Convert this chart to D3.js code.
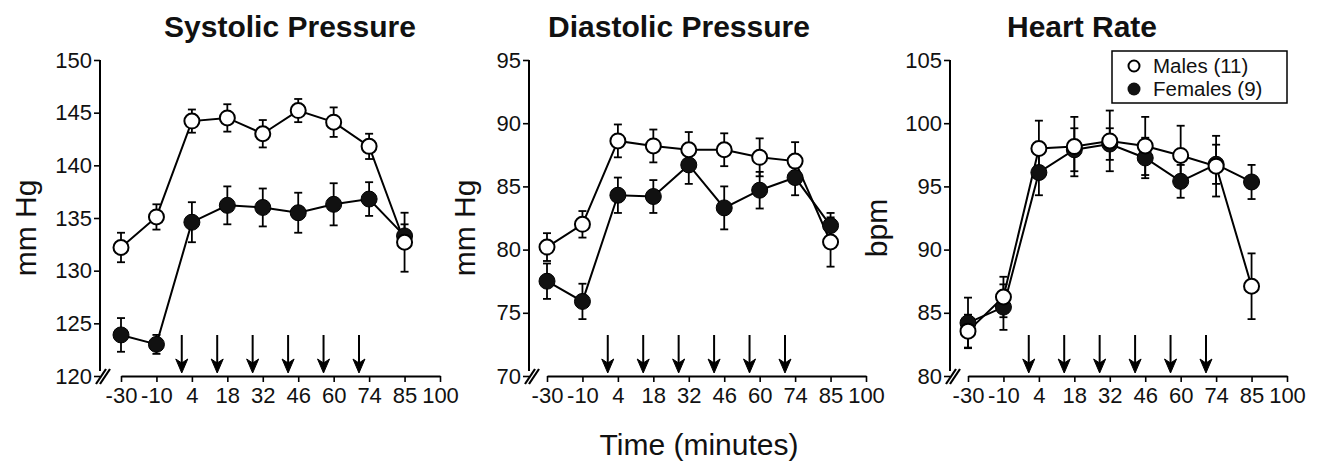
<!DOCTYPE html>
<html>
<head>
<meta charset="utf-8">
<script src="https://cdn.jsdelivr.net/npm/d3@7"></script>
<style>
  body { margin: 0; background: #fff; }
  svg { display: block; font-family: "Liberation Sans", Arial, Helvetica, sans-serif; }
</style>
</head>
<body>
<div id="chart"></div>
<script>
// 时间轴 (分钟)
const timeTicks = [-30, -10, 4, 18, 32, 46, 60, 74, 85, 100];
const sampleTimes = [-30, -10, 4, 18, 32, 46, 60, 74, 85];
const injectionTimes = [0, 14, 28, 42, 56, 70];

const panelTitles = ['Systolic Pressure', 'Diastolic Pressure', 'Heart Rate'];
const unitLabels = ['mm Hg', 'mm Hg', 'bpm'];
const seriesNames = ['Males (11)', 'Females (9)'];
const xTitle = 'Time (minutes)';

// y 轴刻度
const systolicTicks = [120, 125, 130, 135, 140, 145, 150];
const diastolicTicks = [70, 75, 80, 85, 90, 95];
const heartRateTicks = [80, 85, 90, 95, 100, 105];

// 收缩压
const systolicMales = [132.2, 135.1, 144.2, 144.5, 143.0, 145.2, 144.1, 141.8, 132.7];
const systolicMalesSem = [1.4, 1.2, 1.1, 1.3, 1.3, 1.1, 1.4, 1.2, 2.8];
const systolicFemales = [123.9, 123.0, 134.6, 136.2, 136.0, 135.5, 136.3, 136.8, 133.3];
const systolicFemalesSem = [1.6, 0.9, 1.9, 1.8, 1.8, 1.9, 2.0, 1.6, 1.1];

// 舒张压
const diastolicMales = [80.2, 82.0, 88.6, 88.2, 87.9, 87.9, 87.3, 87.0, 80.6];
const diastolicMalesSem = [1.1, 1.05, 1.3, 1.3, 1.4, 1.3, 1.5, 1.5, 1.95];
const diastolicFemales = [77.5, 75.9, 84.3, 84.2, 86.7, 83.3, 84.7, 85.7, 81.9];
const diastolicFemalesSem = [1.4, 1.4, 1.4, 1.3, 1.5, 1.7, 1.45, 1.4, 1.0];

// 心率
const heartRateMales = [83.55, 86.25, 98.0, 98.15, 98.6, 98.2, 97.45, 96.6, 87.1];
const heartRateMalesSem = [1.3, 1.6, 2.2, 2.35, 2.4, 2.3, 2.35, 2.4, 2.6];
const heartRateFemales = [84.2, 85.45, 96.1, 97.9, 98.35, 97.25, 95.4, 96.75, 95.35];
const heartRateFemalesSem = [2.0, 1.8, 1.8, 1.7, 1.25, 1.6, 1.3, 1.55, 1.35];

// 布局
const width = 1320;
const height = 462;
const plotTop = 60;
const plotBottom = 376;
const plotWidth = 319;
const layout = [
    { left: 121, axisX: 100, titleX: 290, unitX: 36 },
    { left: 547, axisX: 529, titleX: 679, unitX: 475 },
    { left: 968, axisX: 950, titleX: 1082, unitX: 887 }
];

const panels = [
    { ticks: systolicTicks, males: systolicMales, malesSem: systolicMalesSem,
      females: systolicFemales, femalesSem: systolicFemalesSem },
    { ticks: diastolicTicks, males: diastolicMales, malesSem: diastolicMalesSem,
      females: diastolicFemales, femalesSem: diastolicFemalesSem },
    { ticks: heartRateTicks, males: heartRateMales, malesSem: heartRateMalesSem,
      females: heartRateFemales, femalesSem: heartRateFemalesSem }
];

const svg = d3.select('#chart')
    .append('svg')
    .attr('width', width)
    .attr('height', height);

function drawPanel(panel, box, i) {
    const g = svg.append('g');

    // 刻度等距排列，用分段线性比例尺
    const step = plotWidth / (timeTicks.length - 1);
    const x = d3.scaleLinear()
        .domain(timeTicks)
        .range(timeTicks.map((d, k) => box.left + k * step));
    const y = d3.scaleLinear()
        .domain(d3.extent(panel.ticks))
        .range([plotBottom, plotTop]);

    // x 轴 (普通连字符作负号)
    const xAxis = g.append('g')
        .attr('transform', `translate(0,${plotBottom})`)
        .call(d3.axisBottom(x).tickValues(timeTicks).tickFormat(d => String(d))
            .tickSizeInner(6).tickSizeOuter(0).tickPadding(5));
    xAxis.select('.domain').attr('stroke-width', 2);
    xAxis.selectAll('.tick line').attr('stroke-width', 1.6);
    xAxis.selectAll('.tick text')
        .style('font-size', '22px')
        .attr('fill', '#111');

    // y 轴
    const yAxis = g.append('g')
        .attr('transform', `translate(${box.axisX},0)`)
        .call(d3.axisLeft(y).tickValues(panel.ticks).tickSizeInner(6).tickSizeOuter(0).tickPadding(2));
    yAxis.select('.domain').remove();
    yAxis.selectAll('.tick line').attr('stroke-width', 1.6);
    yAxis.selectAll('.tick text')
        .style('font-size', '22px')
        .attr('fill', '#111');
    g.append('line')
        .attr('x1', box.axisX).attr('x2', box.axisX)
        .attr('y1', y(panel.ticks[panel.ticks.length - 1]))
        .attr('y2', plotBottom - 5)
        .attr('stroke', '#000')
        .attr('stroke-width', 2);

    // 断轴符号 //
    [0, 4].forEach(dx => {
        g.append('line')
            .attr('x1', box.axisX - 4 + dx).attr('y1', plotBottom + 8)
            .attr('x2', box.axisX + 6 + dx).attr('y2', plotBottom - 7)
            .attr('stroke', '#000')
            .attr('stroke-width', 2.2);
    });

    // 注射箭头
    const arrows = g.selectAll('.arrow')
        .data(injectionTimes)
        .enter()
        .append('g')
        .attr('class', 'arrow')
        .attr('transform', d => `translate(${x(d)},${plotBottom - 3})`);
    arrows.append('line')
        .attr('y1', -38).attr('y2', -8)
        .attr('stroke', '#000')
        .attr('stroke-width', 2);
    arrows.append('path')
        .attr('d', 'M0,0 L-6,-14 L0,-10 L6,-14 Z')
        .attr('fill', '#000')
        .attr('stroke', '#000')
        .attr('stroke-width', 1);

    const series = [
        { values: panel.females, sem: panel.femalesSem, filled: true },
        { values: panel.males, sem: panel.malesSem, filled: false }
    ];

    const line = d3.line()
        .x((d, k) => x(sampleTimes[k]))
        .y(d => y(d));

    series.forEach(s => {
        g.append('path')
            .datum(s.values)
            .attr('d', line)
            .attr('fill', 'none')
            .attr('stroke', '#000')
            .attr('stroke-width', 2);
    });

    // 误差线
    series.forEach(s => {
        const bars = g.append('g')
            .selectAll('g')
            .data(s.values)
            .enter()
            .append('g')
            .attr('transform', (d, k) => `translate(${x(sampleTimes[k])},0)`);
        bars.append('line')
            .attr('y1', (d, k) => y(d - s.sem[k]))
            .attr('y2', (d, k) => y(d + s.sem[k]))
            .attr('stroke', '#000')
            .attr('stroke-width', 1.8);
        [-1, 1].forEach(sign => {
            bars.append('line')
                .attr('x1', -4).attr('x2', 4)
                .attr('y1', (d, k) => y(d + sign * s.sem[k]))
                .attr('y2', (d, k) => y(d + sign * s.sem[k]))
                .attr('stroke', '#000')
                .attr('stroke-width', 1.8);
        });
    });

    // 数据点 (女性先画，男性空心圆在上)
    series.forEach(s => {
        g.append('g')
            .selectAll('circle')
            .data(s.values)
            .enter()
            .append('circle')
            .attr('cx', (d, k) => x(sampleTimes[k]))
            .attr('cy', d => y(d))
            .attr('r', s.filled ? 8 : 7.5)
            .attr('fill', s.filled ? '#111' : '#fff')
            .attr('stroke', '#000')
            .attr('stroke-width', s.filled ? 1 : 2);
    });

    // 标题
    svg.append('text')
        .attr('x', box.titleX)
        .attr('y', 37)
        .attr('text-anchor', 'middle')
        .style('font-size', '30px')
        .style('font-weight', 'bold')
        .attr('fill', '#111')
        .text(panelTitles[i]);

    // 单位
    svg.append('text')
        .attr('transform', `translate(${box.unitX},${(plotTop + plotBottom) / 2 + 10}) rotate(-90)`)
        .attr('text-anchor', 'middle')
        .style('font-size', '30px')
        .attr('fill', '#111')
        .text(unitLabels[i]);
}

panels.forEach((p, i) => drawPanel(p, layout[i], i));

// 横轴标题
svg.append('text')
    .attr('x', 699)
    .attr('y', 455)
    .attr('text-anchor', 'middle')
    .style('font-size', '30px')
    .attr('fill', '#111')
    .text(xTitle);

// 图例
const legend = svg.append('g');
legend.append('rect')
    .attr('x', 1112).attr('y', 51)
    .attr('width', 175).attr('height', 52)
    .attr('fill', '#fff')
    .attr('stroke', '#000')
    .attr('stroke-width', 1.5);
legend.append('circle')
    .attr('cx', 1134).attr('cy', 66).attr('r', 5.5)
    .attr('fill', '#fff').attr('stroke', '#000').attr('stroke-width', 2);
legend.append('circle')
    .attr('cx', 1134).attr('cy', 89).attr('r', 6.5)
    .attr('fill', '#111');
legend.selectAll('.legend-label')
    .data(seriesNames)
    .enter()
    .append('text')
    .attr('class', 'legend-label')
    .attr('x', 1153)
    .attr('y', (d, i) => 73 + i * 23)
    .style('font-size', '20.5px')
    .attr('fill', '#111')
    .text(d => d);
</script>
</body>
</html>
